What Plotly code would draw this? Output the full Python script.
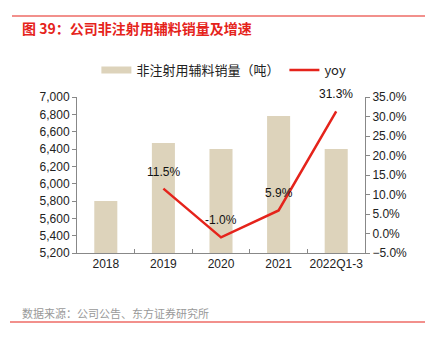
import plotly.graph_objects as go

categories = ["2018", "2019", "2020", "2021", "2022Q1-3"]
volume = [5800, 6470, 6400, 6780, 6400]
yoy_cats = ["2019", "2020", "2021", "2022Q1-3"]
yoy = [0.115, -0.010, 0.059, 0.313]
yoy_labels = ["11.5%", "-1.0%", "5.9%", "31.3%"]

W, H = 425, 337
L, R, T, B = 77, 365, 97, 253

def px_x(px):
    return (px - L) / (R - L)

def px_y(py):
    return (B - py) / (B - T)

FONT = "Liberation Sans, Arial, Noto Sans CJK SC, sans-serif"
CJK = "Noto Sans CJK SC, sans-serif"
RED = "#E5231B"
TAN = "#DDD3BB"

fig = go.Figure()
fig.add_trace(go.Bar(
    x=categories, y=volume, name="非注射用辅料销量（吨）",
    marker=dict(color=TAN, line=dict(width=0)), width=0.4, yaxis="y",
    showlegend=False,
))
# legend-only swatch for the bars (wide rectangle like the reference)
fig.add_trace(go.Scatter(
    x=[categories[0]], y=[None], name="非注射用辅料销量（吨）", mode="lines",
    line=dict(color=TAN, width=7), yaxis="y",
))
fig.add_trace(go.Scatter(
    x=yoy_cats, y=yoy, name="yoy", mode="lines",
    line=dict(color=RED, width=2.5), yaxis="y2", cliponaxis=False,
))

annotations = []
for c, v, t in zip(yoy_cats, yoy, yoy_labels):
    annotations.append(dict(x=categories.index(c), y=v, xref="x", yref="y2", text=t,
                            showarrow=False, yshift=17,
                            font=dict(size=12, color="#111111", family=FONT)))

axis_line = "#888888"
fig.update_layout(
    width=W, height=H,
    margin=dict(l=L, r=W - R, t=T, b=H - B, pad=0),
    paper_bgcolor="white", plot_bgcolor="white",
    font=dict(family=FONT, size=12, color="#222222"),
    showlegend=True,
    legend=dict(orientation="h", x=0.51, xanchor="center", y=px_y(70), yanchor="middle",
                font=dict(size=13, family=CJK, color="#222222"), itemwidth=30,
                bgcolor="rgba(0,0,0,0)"),
    xaxis=dict(type="category", categoryorder="array", categoryarray=categories,
               range=[-0.5, len(categories) - 0.5],
               showline=True, linecolor=axis_line, linewidth=1,
               ticks="inside", tickson="boundaries", ticklen=4, tickcolor=axis_line,
               showgrid=False, tickangle=0, tickfont=dict(size=12, color="#222222")),
    yaxis=dict(range=[5200, 7000], dtick=200, tickformat=",", showline=True,
               linecolor=axis_line, ticks="outside", ticklen=4, tickcolor=axis_line,
               showgrid=False, zeroline=False, tickfont=dict(size=12, color="#222222")),
    yaxis2=dict(range=[-0.05, 0.35], dtick=0.05, tickformat=".1%", overlaying="y",
                side="right", showline=True, linecolor=axis_line, ticks="outside",
                ticklen=4, tickcolor=axis_line, showgrid=False, zeroline=False,
                tickfont=dict(size=12, color="#222222")),
    shapes=[
        dict(type="line", xref="paper", yref="paper", x0=px_x(12), x1=px_x(425),
             y0=px_y(16), y1=px_y(16), line=dict(color=RED, width=1.2)),
        dict(type="line", xref="paper", yref="paper", x0=px_x(10), x1=px_x(425),
             y0=px_y(322), y1=px_y(322), line=dict(color=RED, width=1.2)),
    ],
    annotations=annotations + [
        dict(text="<b>图 39：公司非注射用辅料销量及增速</b>", xref="paper", yref="paper",
             x=px_x(20), y=px_y(28), xanchor="left", yanchor="middle", showarrow=False,
             font=dict(size=14, color=RED, family=CJK)),
        dict(text="数据来源：公司公告、东方证券研究所", xref="paper", yref="paper",
             x=px_x(20), y=px_y(313), xanchor="left", yanchor="middle", showarrow=False,
             font=dict(size=11, color="#999999", family=CJK)),
    ],
)

fig.write_html("out.html")
